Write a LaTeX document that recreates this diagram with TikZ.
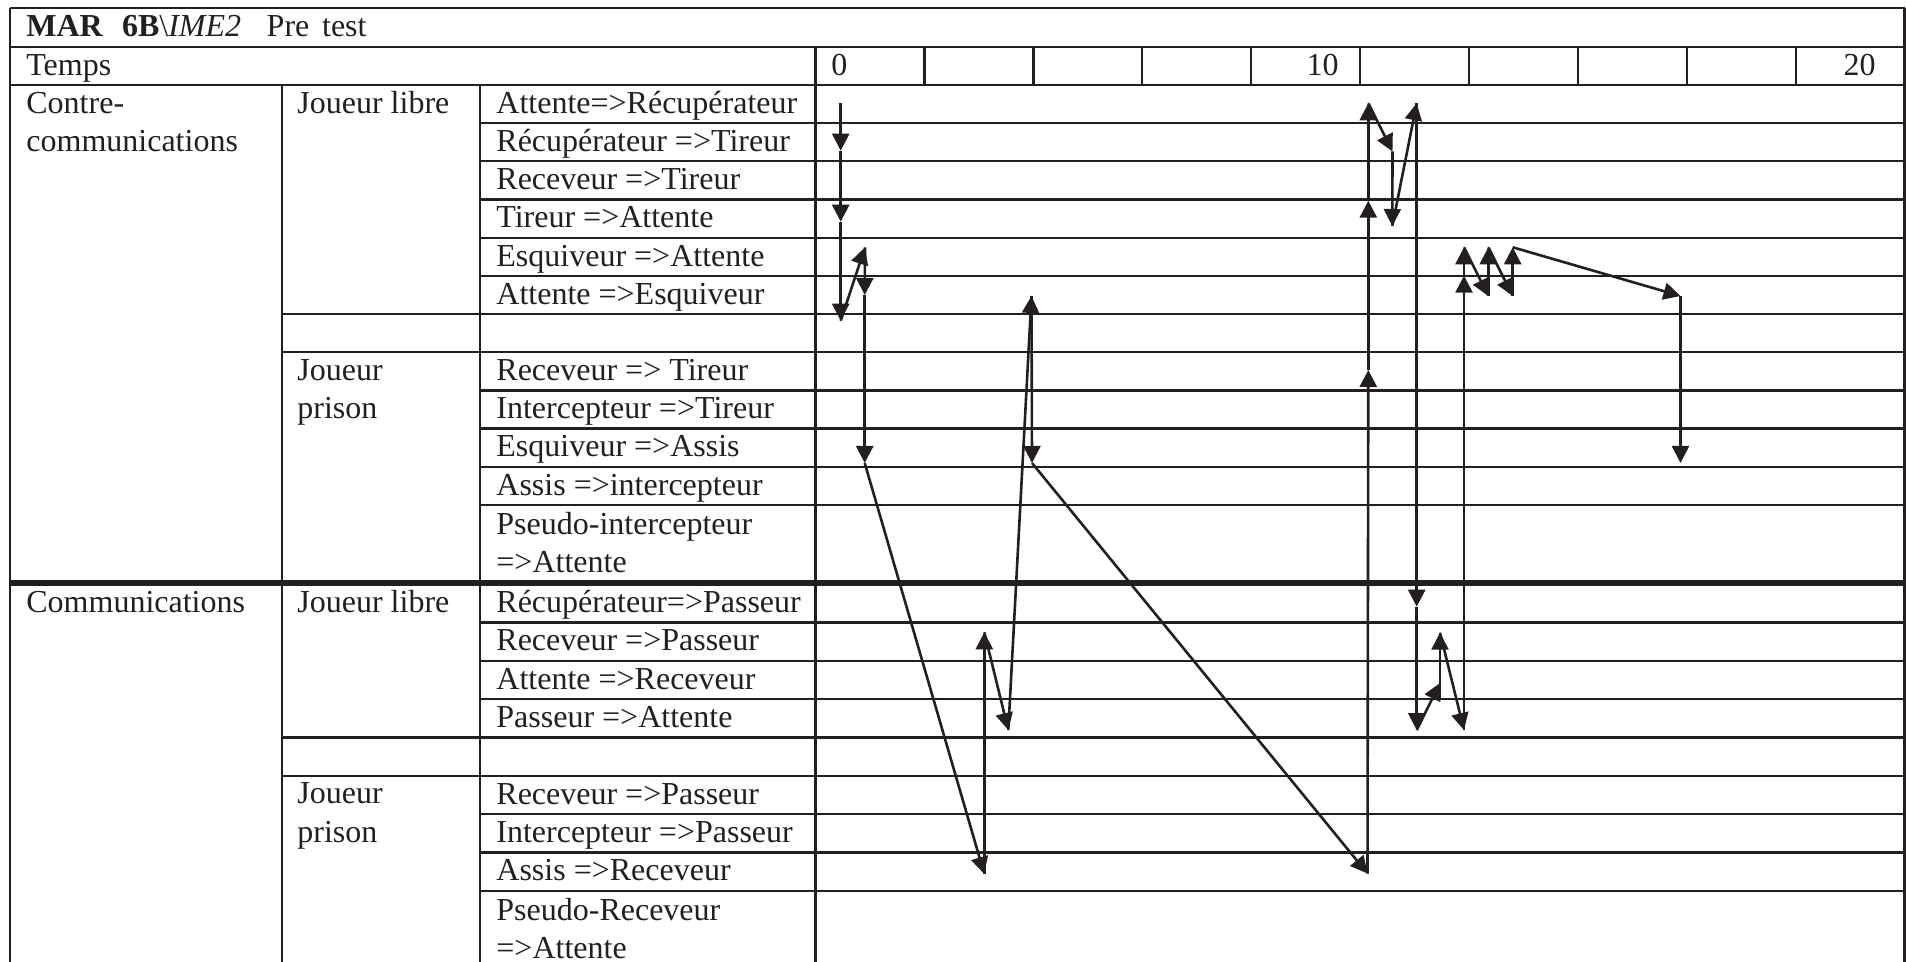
\documentclass[tikz,border=0pt]{standalone}
\usepackage{fontspec}
\setmainfont{Liberation Serif}
\usepackage{xcolor}
\usetikzlibrary{arrows.meta}
\definecolor{inkdark}{RGB}{35,31,32}

\tikzset{
  gridrule/.style={inkdark,line width=1.15pt},
  heavyrule/.style={inkdark,line width=2.9pt},
  cell/.style={anchor=base west,inner sep=0pt,text=inkdark,
    font=\fontsize{16}{19.1}\selectfont},
  cellright/.style={cell,anchor=base east},
  cellwrap/.style={cell,anchor=north west,align=left},
  flow/.style={inkdark,line width=1.3pt,-{Triangle[length=8.5pt,width=8.5pt]}}
}

\begin{document}
\begin{tikzpicture}[x=0.5pt,y=-0.5pt]
  \useasboundingbox (0,0) rectangle (1906,962);
  \clip (0,0) rectangle (1906,962);

  % ── TABLE FRAME ────────────────────────────────────────────────────────────
  % columns: outer 10 | player 282 | change 480 | time 815.6 | outer 1904.5
  \draw[gridrule] (10,8.3) -- (1904.5,8.3);
  \draw[gridrule] (10,8.3) -- (10,975);
  \draw[gridrule] (1904.5,8.3) -- (1904.5,975);
  \draw[gridrule] (815.6,46.8) -- (815.6,975);
  \draw[gridrule] (282,85) -- (282,975);
  \draw[gridrule] (480,85) -- (480,975);
  \foreach \y in {46.8,85}
    \draw[gridrule] (10,\y) -- (1904.5,\y);

  % time scale: one cell = 2 units
  \foreach \i in {1,...,9}
    \draw[gridrule] (815.6+108.9*\i,46.8) -- (815.6+108.9*\i,85);

  % ── ROW RULES ──────────────────────────────────────────────────────────────
  % upper block: 38.17 px pitch, lower block: 38.35 px pitch
  \foreach \k in {3,4,5,6,7,10,11,12,13}{
    \pgfmathsetmacro{\y}{8.66+38.17*\k}
    \draw[gridrule] (480,\y) -- (1904.5,\y);
  }
  \foreach \k in {8,9}{
    \pgfmathsetmacro{\y}{8.66+38.17*\k}
    \draw[gridrule] (282,\y) -- (1904.5,\y);
  }
  \foreach \k in {16,17,18,21,22,23}{
    \pgfmathsetmacro{\y}{584+38.35*(\k-15)}
    \draw[gridrule] (480,\y) -- (1904.5,\y);
  }
  \foreach \k in {19,20}{
    \pgfmathsetmacro{\y}{584+38.35*(\k-15)}
    \draw[gridrule] (282,\y) -- (1904.5,\y);
  }
  \draw[heavyrule] (10,583) -- (1904.5,583);

  % ── HEADER TEXT ────────────────────────────────────────────────────────────
  \node[cell] (title) at (26,36.8)
    {\textbf{MAR\hspace{0.6em}6B}\textbackslash\textit{IME2}\hspace{0.8em}Pre\hspace{0.4em}test};
  \node[cell] (temps) at (26,75.3) {Temps};
  \node[cell] (tzero) at (831,75.3) {0};
  \node[cellright] (tten) at (1339,75.3) {10};
  \node[cellright] (ttwenty) at (1876,75.3) {20};

  % ── CONTRE-COMMUNICATIONS ──────────────────────────────────────────────────
  \node[cellwrap] (contre) at (26,91.8) {Contre-\\communications};
  \node[cell] (ccfree) at (297,113.5) {Joueur libre};
  \node[cellwrap] (ccjail) at (297,359) {Joueur\\prison};

  \node[cell] (cc1) at (496,113.5) {Attente=>Récupérateur};
  \node[cell] (cc2) at (496,151.7) {Récupérateur =>Tireur};
  \node[cell] (cc3) at (496,189.8) {Receveur =>Tireur};
  \node[cell] (cc4) at (496,228) {Tireur =>Attente};
  \node[cell] (cc5) at (496,266.2) {Esquiveur =>Attente};
  \node[cell] (cc6) at (496,304.4) {Attente =>Esquiveur};

  \node[cell] (cc7) at (496,380.7) {Receveur => Tireur};
  \node[cell] (cc8) at (496,418.9) {Intercepteur =>Tireur};
  \node[cell] (cc9) at (496,457) {Esquiveur =>Assis};
  \node[cell] (cc10) at (496,495.2) {Assis =>intercepteur};
  \node[cellwrap] (cc11) at (496,511.7) {Pseudo-intercepteur\\=>Attente};

  % ── COMMUNICATIONS ─────────────────────────────────────────────────────────
  \node[cell] (comm) at (26,612.5) {Communications};
  \node[cell] (cofree) at (297,612.5) {Joueur libre};
  \node[cellwrap] (cojail) at (297,782.5) {Joueur\\prison};

  \node[cell] (co1) at (496,612.5) {Récupérateur=>Passeur};
  \node[cell] (co2) at (496,650.9) {Receveur =>Passeur};
  \node[cell] (co3) at (496,689.2) {Attente =>Receveur};
  \node[cell] (co4) at (496,727.5) {Passeur =>Attente};

  \node[cell] (co5) at (496,804.2) {Receveur =>Passeur};
  \node[cell] (co6) at (496,842.6) {Intercepteur =>Passeur};
  \node[cell] (co7) at (496,880.9) {Assis =>Receveur};
  \node[cellwrap] (co8) at (496,897.6) {Pseudo-Receveur\\=>Attente};

  % ── ROLE CHANGES OVER TIME ─────────────────────────────────────────────────
  \coordinate (mv0) at (840.7,103.3);
  \coordinate (mv1) at (840.7,150.7);
  \coordinate (mv2) at (840.7,221.7);
  \coordinate (mv3) at (840.7,320.7);
  \coordinate (mv4) at (865,247.3);
  \coordinate (mv5) at (864.7,295);
  \coordinate (mv6) at (864.7,463);
  \coordinate (mv7) at (984.3,874);
  \coordinate (mv8) at (984.3,632.3);
  \coordinate (mv9) at (1008.3,730);
  \coordinate (mv10) at (1031.5,296);
  \coordinate (mv11) at (1032,463);
  \coordinate (mv12) at (1367.5,873.5);
  \coordinate (mv13) at (1368.3,370);
  \coordinate (mv14) at (1368.3,200.7);
  \coordinate (mv15) at (1368.3,103.3);
  \coordinate (mv16) at (1392.5,151.5);
  \coordinate (mv17) at (1392.3,226);
  \coordinate (mv18) at (1416.7,103.3);
  \coordinate (mv19) at (1416.7,606.7);
  \coordinate (mv20) at (1416.7,730);
  \coordinate (mv21) at (1440,683);
  \coordinate (mv22) at (1440,698);
  \coordinate (mv23) at (1440,632.7);
  \coordinate (mv24) at (1464,730);
  \coordinate (mv25) at (1464,275.7);
  \coordinate (mv26) at (1464,247.3);
  \coordinate (mv27) at (1488.3,296);
  \coordinate (mv28) at (1488.3,247.3);
  \coordinate (mv29) at (1512.7,296);
  \coordinate (mv30) at (1512.7,247.3);
  \coordinate (mv31) at (1680.5,296);
  \coordinate (mv32) at (1680.5,463);

  \foreach \a/\b in {0/1,1/2,2/3,3/4,4/5,5/6,6/7,7/8,8/9,9/10,10/11,11/12,
                     12/13,13/14,14/15,15/16,16/17,17/18,18/19,19/20,20/21,
                     22/23,23/24,24/25,25/26,26/27,27/28,28/29,29/30,30/31,31/32}
    \draw[flow] (mv\a) -- (mv\b);

\end{tikzpicture}
\end{document}
